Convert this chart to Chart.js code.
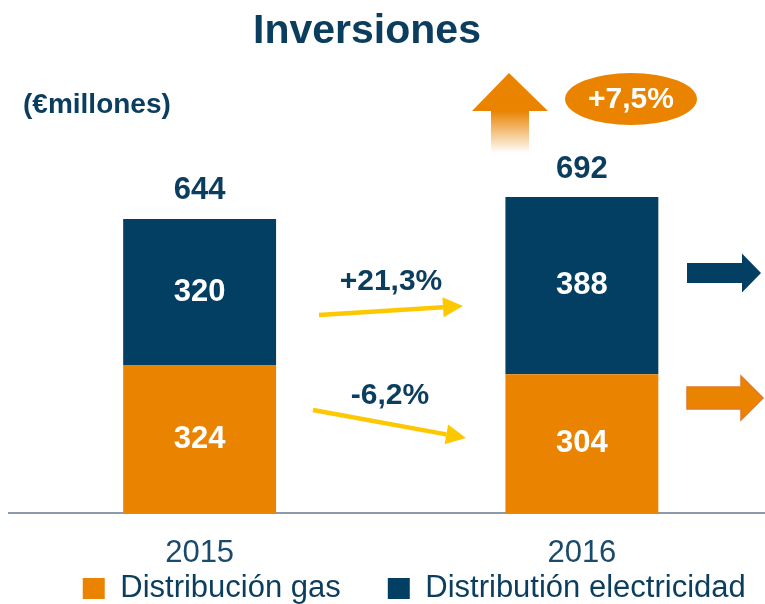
<!DOCTYPE html>
<html>
<head>
<meta charset="utf-8">
<script src="https://cdn.jsdelivr.net/npm/chart.js@4.4.0/dist/chart.umd.min.js"></script>
<style>
    html, body { margin: 0; padding: 0; overflow: hidden; background: #fff; width: 765px; height: 604px; }
    #wrap { width: 820px; height: 681px; }
</style>
</head>
<body>
<div id="wrap"><canvas id="invChart" width="820" height="681"></canvas></div>
<script>
const years = ['2015', '2016'];
const gasValues = [324, 304];
const elecValues = [320, 388];
const seriesNames = ['Distribución gas', 'Distributión electricidad'];

const ORANGE = '#EA8400';
const NAVY = '#023F63';
const TEXT_NAVY = '#0B3D5E';
const YELLOW = '#FDC800';
const FONT = "'Liberation Sans', Arial, sans-serif";

// variation in %, spanish style: +21,3%
function pct(a, b) {
    const v = Math.round((b - a) * 1000 / a) / 10;
    return (v >= 0 ? '+' : '') + v.toFixed(1).replace('.', ',') + '%';
}

function drawArrow(ctx, x1, y1, x2, y2, color) {
    const ang = Math.atan2(y2 - y1, x2 - x1);
    const head = 20, half = 10;
    const bx = x2 - head * Math.cos(ang), by = y2 - head * Math.sin(ang);
    ctx.strokeStyle = color;
    ctx.lineWidth = 4.5;
    ctx.beginPath();
    ctx.moveTo(x1, y1);
    ctx.lineTo(bx, by);
    ctx.stroke();
    ctx.fillStyle = color;
    ctx.beginPath();
    ctx.moveTo(x2, y2);
    ctx.lineTo(bx + half * Math.sin(ang), by - half * Math.cos(ang));
    ctx.lineTo(bx - half * Math.sin(ang), by + half * Math.cos(ang));
    ctx.closePath();
    ctx.fill();
}

function blockArrow(ctx, x0, yc, shaftEnd, tip, shaftHalf, headHalf) {
    ctx.beginPath();
    ctx.moveTo(x0, yc - shaftHalf);
    ctx.lineTo(shaftEnd, yc - shaftHalf);
    ctx.lineTo(shaftEnd, yc - headHalf);
    ctx.lineTo(tip, yc);
    ctx.lineTo(shaftEnd, yc + headHalf);
    ctx.lineTo(shaftEnd, yc + shaftHalf);
    ctx.lineTo(x0, yc + shaftHalf);
    ctx.closePath();
}

// legend sits right under the year labels, closer than the layout would put it
const legendUp = {
    id: 'legendUp',
    afterLayout(chart) {
        const lg = chart.legend;
        const h = lg.height;
        lg.top = chart.chartArea.bottom + 13;
        lg.bottom = lg.top + h;
    }
};

const annotations = {
    id: 'annotations',
    afterDraw(chart) {
        const ctx = chart.ctx;
        const metaGas = chart.getDatasetMeta(0);
        const metaElec = chart.getDatasetMeta(1);
        ctx.save();

        // title + unit
        ctx.fillStyle = TEXT_NAVY;
        ctx.textAlign = 'center';
        ctx.textBaseline = 'alphabetic';
        ctx.font = 'bold 41px ' + FONT;
        ctx.fillText('Inversiones', 367, 43);
        ctx.textAlign = 'left';
        ctx.font = 'bold 28px ' + FONT;
        ctx.fillText('(€millones)', 23, 113);

        // values inside the segments
        ctx.textAlign = 'center';
        ctx.textBaseline = 'middle';
        ctx.font = 'bold 31px ' + FONT;
        ctx.fillStyle = '#fff';
        [[metaGas, gasValues], [metaElec, elecValues]].forEach(([meta, vals]) => {
            meta.data.forEach((bar, i) => {
                ctx.fillText(String(vals[i]), bar.x, (bar.y + bar.base) / 2);
            });
        });

        // totals above the stacks
        ctx.fillStyle = TEXT_NAVY;
        metaElec.data.forEach((bar, i) => {
            ctx.fillText(String(gasValues[i] + elecValues[i]), bar.x, bar.y - 28);
        });

        // yellow growth arrows between the bars
        drawArrow(ctx, 319, 315, 463, 306, YELLOW);
        drawArrow(ctx, 313, 410, 466, 438, YELLOW);
        ctx.fillStyle = TEXT_NAVY;
        ctx.font = 'bold 30px ' + FONT;
        ctx.fillText(pct(elecValues[0], elecValues[1]), 391, 282);
        ctx.fillText(pct(gasValues[0], gasValues[1]), 390, 396);

        // big up arrow with fading shaft
        const grad = ctx.createLinearGradient(0, 111, 0, 153);
        grad.addColorStop(0, ORANGE);
        grad.addColorStop(1, 'rgba(234,132,0,0)');
        ctx.fillStyle = grad;
        ctx.fillRect(491, 110, 38, 43);
        ctx.fillStyle = ORANGE;
        ctx.beginPath();
        ctx.moveTo(509, 73);
        ctx.lineTo(548, 111);
        ctx.lineTo(472, 111);
        ctx.closePath();
        ctx.fill();

        // total variation bubble
        const t0 = gasValues[0] + elecValues[0];
        const t1 = gasValues[1] + elecValues[1];
        ctx.beginPath();
        ctx.ellipse(631, 99, 66, 26, 0, 0, Math.PI * 2);
        ctx.fill();
        ctx.fillStyle = '#fff';
        ctx.font = 'bold 30px ' + FONT;
        ctx.fillText(pct(t0, t1), 631, 100);

        // right side block arrows
        ctx.fillStyle = NAVY;
        blockArrow(ctx, 687, 273, 742, 761, 10, 19.5);
        ctx.fill();
        ctx.fillStyle = ORANGE;
        ctx.strokeStyle = '#E07A28';
        ctx.lineWidth = 1.5;
        blockArrow(ctx, 687, 398, 741, 763, 11, 22);
        ctx.fill();
        ctx.stroke();

        ctx.restore();
    }
};

new Chart(document.getElementById('invChart'), {
    type: 'bar',
    data: {
        labels: years,
        datasets: [
            {
                label: seriesNames[0],
                data: gasValues,
                backgroundColor: ORANGE,
                borderWidth: 0,
                barPercentage: 0.4,
                categoryPercentage: 1
            },
            {
                label: seriesNames[1],
                data: elecValues,
                backgroundColor: NAVY,
                borderWidth: 0,
                barPercentage: 0.4,
                categoryPercentage: 1
            }
        ]
    },
    options: {
        responsive: false,
        animation: false,
        layout: {
            padding: { top: 102, left: 8.5, right: 0, bottom: 0 }
        },
        plugins: {
            legend: {
                position: 'bottom',
                labels: {
                    boxWidth: 22,
                    boxHeight: 21,
                    padding: 47,
                    color: TEXT_NAVY,
                    font: { size: 31, family: FONT }
                }
            },
            tooltip: { enabled: false }
        },
        scales: {
            x: {
                stacked: true,
                grid: { display: false, drawTicks: false },
                border: { display: true, color: '#8E9AA8', width: 2 },
                ticks: {
                    padding: 21.4,
                    color: '#1A4A6C',
                    font: { size: 31, family: FONT }
                }
            },
            y: {
                stacked: true,
                position: 'right', // invisible, only pushes the plot left of the legend centre
                min: 0,
                max: 900,
                grid: { display: false, drawTicks: false },
                border: { display: false },
                ticks: { display: false },
                afterFit(scale) { scale.width = 47; }
            }
        }
    },
    plugins: [legendUp, annotations]
});
</script>
</body>
</html>
